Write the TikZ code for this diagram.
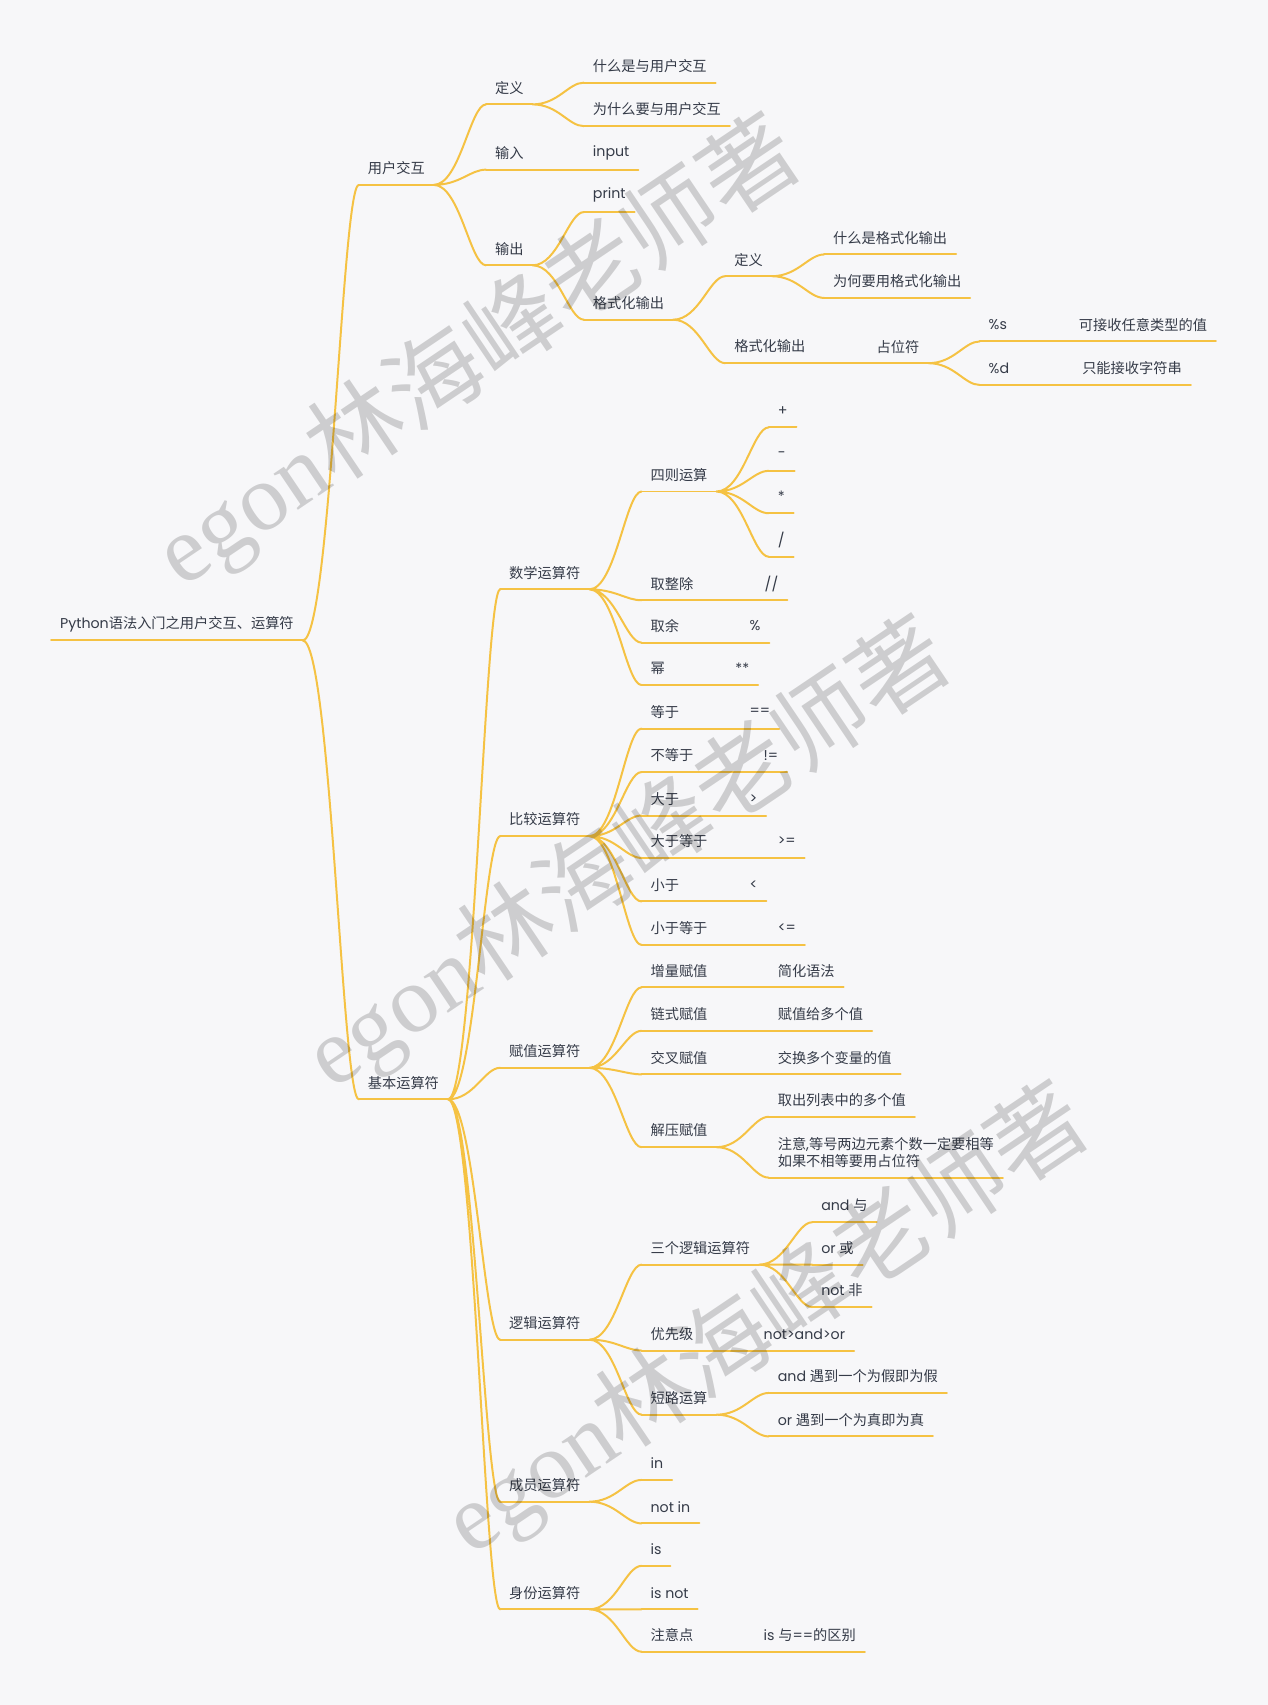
\documentclass[tikz,border=0pt]{standalone}
\usepackage{fontspec}
\setmainfont{Noto Sans CJK SC}
\newfontfamily\lat{Poppins}
\newfontfamily\wmserif{Liberation Serif}
\usetikzlibrary{calc}
\definecolor{paperc}{HTML}{F7F7F9}
\definecolor{wirec}{HTML}{F5C243}
\definecolor{inkc}{HTML}{353B48}
\tikzset{
  wire/.style={draw=wirec, line width=1.3pt, line cap=round},
  twig/.style={to path={let \p1=(\tikztostart), \p2=(\tikztotarget) in
    .. controls ({0.5*\x1+0.5*\x2},\y1) and ({0.3*\x1+0.7*\x2},\y2) .. (\tikztotarget)}},
  topic/.style={anchor=south west, inner xsep=0.2cm, inner ysep=0pt, minimum height=0.75cm,
    text=inkc, font=\fontsize{9.3pt}{11pt}\selectfont,
    append after command={(\tikzlastnode.south west) edge[wire] (\tikzlastnode.south east)}},
  stamp/.style={text=black, text opacity=0.17, font=\fontsize{62pt}{62pt}\selectfont, rotate=34},
}

\begin{document}
\begin{tikzpicture}[x=0.025cm, y=-0.025cm]
\fill[paperc] (0,0) rectangle (1166,1568);
\useasboundingbox (0,0) rectangle (1166,1568);

% root and first level
\node[topic] (root) at (47,589) {{\lat Python}语法入门之用户交互、运算符};
\node[topic] (ui) at (330,170) {用户交互};
\node[topic] (ops) at (330,1011) {基本运算符};
\draw[wire] (root.south east) to[twig] (ui.south west) (root.south east) to[twig] (ops.south west);

% user interaction
\node[topic] (uidef) at (447,96) {定义};
\node[topic] (uiin) at (447,156) {输入};
\node[topic] (uiout) at (447,244) {输出};
\node[topic] (what) at (537,76) {什么是与用户交互};
\node[topic] (why) at (537,116) {为什么要与用户交互};
\node[topic] (input) at (537,156) {{\lat input}};
\node[topic] (print) at (537,195) {{\lat print}};
\node[topic] (fmt) at (537,294) {格式化输出};
\node[topic] (fmtdef) at (667,254) {定义};
\node[topic] (fmtout) at (667,334) {格式化输出};
\node[topic] (fmtwhat) at (758,234) {什么是格式化输出};
\node[topic] (fmtwhy) at (758,274) {为何要用格式化输出};
\node[topic] (slot) at (798,334) {占位符};
\node[topic] (pcts) at (901,314) {{\lat \%s}};
\node[topic] (pctd) at (901,354) {{\lat \%d}};
\node[topic] (anyval) at (984,314) {可接收任意类型的值};
\node[topic] (stronly) at (987,354) {只能接收字符串};
\draw[wire] (ui.south east) to[twig] (uidef.south west) (ui.south east) to[twig] (uiin.south west)
  (ui.south east) to[twig] (uiout.south west);
\draw[wire] (uidef.south east) to[twig] (what.south west) (uidef.south east) to[twig] (why.south west);
\draw[wire] (uiin.south east) to[twig] (input.south west);
\draw[wire] (uiout.south east) to[twig] (print.south west) (uiout.south east) to[twig] (fmt.south west);
\draw[wire] (fmt.south east) to[twig] (fmtdef.south west) (fmt.south east) to[twig] (fmtout.south west);
\draw[wire] (fmtdef.south east) to[twig] (fmtwhat.south west) (fmtdef.south east) to[twig] (fmtwhy.south west);
\draw[wire] (fmtout.south east) to[twig] (slot.south west);
\draw[wire] (slot.south east) to[twig] (pcts.south west) (slot.south east) to[twig] (pctd.south west);
\draw[wire] (pcts.south east) to[twig] (anyval.south west);
\draw[wire] (pctd.south east) to[twig] (stronly.south west);

% operator groups
\node[topic] (math) at (460,542) {数学运算符};
\node[topic] (cmp) at (460,769) {比较运算符};
\node[topic] (asg) at (460,982) {赋值运算符};
\node[topic] (logic) at (460,1232) {逻辑运算符};
\node[topic] (member) at (460,1381) {成员运算符};
\node[topic] (ident) at (460,1480) {身份运算符};
\draw[wire] (ops.south east) to[twig] (math.south west) (ops.south east) to[twig] (cmp.south west)
  (ops.south east) to[twig] (asg.south west) (ops.south east) to[twig] (logic.south west)
  (ops.south east) to[twig] (member.south west) (ops.south east) to[twig] (ident.south west);

% arithmetic
\node[topic] (four) at (590,452) {四则运算};
\node[topic] (floordiv) at (590,552) {取整除};
\node[topic] (modulo) at (590,591) {取余};
\node[topic] (power) at (590,630) {幂};
\node[topic] (plus) at (707,393) {{\lat +}};
\node[topic] (minus) at (707,433) {{\lat -}};
\node[topic] (times) at (707,472) {{\lat *}};
\node[topic] (divide) at (707,512) {{\lat /}};
\node[topic] (fdop) at (695,552) {{\lat //}};
\node[topic] (modop) at (681,591) {{\lat \%}};
\node[topic] (powop) at (668,630) {{\lat **}};
\draw[wire] (math.south east) to[twig] (four.south west) (math.south east) to[twig] (floordiv.south west)
  (math.south east) to[twig] (modulo.south west) (math.south east) to[twig] (power.south west);
\draw[wire] (four.south east) to[twig] (plus.south west) (four.south east) to[twig] (minus.south west)
  (four.south east) to[twig] (times.south west) (four.south east) to[twig] (divide.south west);
\draw[wire] (floordiv.south east) to[twig] (fdop.south west);
\draw[wire] (modulo.south east) to[twig] (modop.south west);
\draw[wire] (power.south east) to[twig] (powop.south west);

% comparison
\node[topic] (eq) at (590,670) {等于};
\node[topic] (ne) at (590,710) {不等于};
\node[topic] (gt) at (590,750) {大于};
\node[topic] (ge) at (590,789) {大于等于};
\node[topic] (lt) at (590,829) {小于};
\node[topic] (le) at (590,869) {小于等于};
\node[topic] (eqop) at (681,670) {{\lat ==}};
\node[topic] (neop) at (694,710) {{\lat !=}};
\node[topic] (gtop) at (681,750) {{\lat >}};
\node[topic] (geop) at (707,789) {{\lat >=}};
\node[topic] (ltop) at (681,829) {{\lat <}};
\node[topic] (leop) at (707,869) {{\lat <=}};
\draw[wire] (cmp.south east) to[twig] (eq.south west) (cmp.south east) to[twig] (ne.south west)
  (cmp.south east) to[twig] (gt.south west) (cmp.south east) to[twig] (ge.south west)
  (cmp.south east) to[twig] (lt.south west) (cmp.south east) to[twig] (le.south west);
\draw[wire] (eq.south east) to[twig] (eqop.south west);
\draw[wire] (ne.south east) to[twig] (neop.south west);
\draw[wire] (gt.south east) to[twig] (gtop.south west);
\draw[wire] (ge.south east) to[twig] (geop.south west);
\draw[wire] (lt.south east) to[twig] (ltop.south west);
\draw[wire] (le.south east) to[twig] (leop.south west);

% assignment
\node[topic] (incr) at (590,908) {增量赋值};
\node[topic] (chain) at (590,948) {链式赋值};
\node[topic] (cross) at (590,988) {交叉赋值};
\node[topic] (unpack) at (590,1055) {解压赋值};
\node[topic] (incrnote) at (707,908) {简化语法};
\node[topic] (chainnote) at (707,948) {赋值给多个值};
\node[topic] (crossnote) at (707,988) {交换多个变量的值};
\node[topic] (unpk1) at (707,1027) {取出列表中的多个值};
\node[topic, align=left, minimum height=1.15cm] (unpk2) at (707,1083)
  {注意{\lat ,}等号两边元素个数一定要相等\\如果不相等要用占位符};
\draw[wire] (asg.south east) to[twig] (incr.south west) (asg.south east) to[twig] (chain.south west)
  (asg.south east) to[twig] (cross.south west) (asg.south east) to[twig] (unpack.south west);
\draw[wire] (incr.south east) to[twig] (incrnote.south west);
\draw[wire] (chain.south east) to[twig] (chainnote.south west);
\draw[wire] (cross.south east) to[twig] (crossnote.south west);
\draw[wire] (unpack.south east) to[twig] (unpk1.south west) (unpack.south east) to[twig] (unpk2.south west);

% logic
\node[topic] (three) at (590,1163) {三个逻辑运算符};
\node[topic] (prio) at (590,1242) {优先级};
\node[topic] (short) at (590,1301) {短路运算};
\node[topic] (land) at (747,1124) {{\lat and }与};
\node[topic] (lor) at (747,1163) {{\lat or }或};
\node[topic] (lnot) at (747,1202) {{\lat not }非};
\node[topic] (prionote) at (694,1242) {{\lat not>and>or}};
\node[topic] (shand) at (707,1281) {{\lat and }遇到一个为假即为假};
\node[topic] (shor) at (707,1321) {{\lat or }遇到一个为真即为真};
\draw[wire] (logic.south east) to[twig] (three.south west) (logic.south east) to[twig] (prio.south west)
  (logic.south east) to[twig] (short.south west);
\draw[wire] (three.south east) to[twig] (land.south west) (three.south east) to[twig] (lor.south west)
  (three.south east) to[twig] (lnot.south west);
\draw[wire] (prio.south east) to[twig] (prionote.south west);
\draw[wire] (short.south east) to[twig] (shand.south west) (short.south east) to[twig] (shor.south west);

% membership and identity
\node[topic] (in) at (590,1361) {{\lat in}};
\node[topic] (notin) at (590,1401) {{\lat not in}};
\node[topic] (is) at (590,1440) {{\lat is}};
\node[topic] (isnot) at (590,1480) {{\lat is not}};
\node[topic] (notice) at (590,1519) {注意点};
\node[topic] (noticenote) at (694,1519) {{\lat is }与{\lat ==}的区别};
\draw[wire] (member.south east) to[twig] (in.south west) (member.south east) to[twig] (notin.south west);
\draw[wire] (ident.south east) to[twig] (is.south west) (ident.south east) to[twig] (isnot.south west)
  (ident.south east) to[twig] (notice.south west);
\draw[wire] (notice.south east) to[twig] (noticenote.south west);

% watermarks
\node[stamp] (wm1) at (440,325) {{\wmserif egon}林海峰老师著};
\node[stamp] (wm2) at (578,787) {{\wmserif egon}林海峰老师著};
\node[stamp] (wm3) at (705,1215) {{\wmserif egon}林海峰老师著};
\end{tikzpicture}
\end{document}
